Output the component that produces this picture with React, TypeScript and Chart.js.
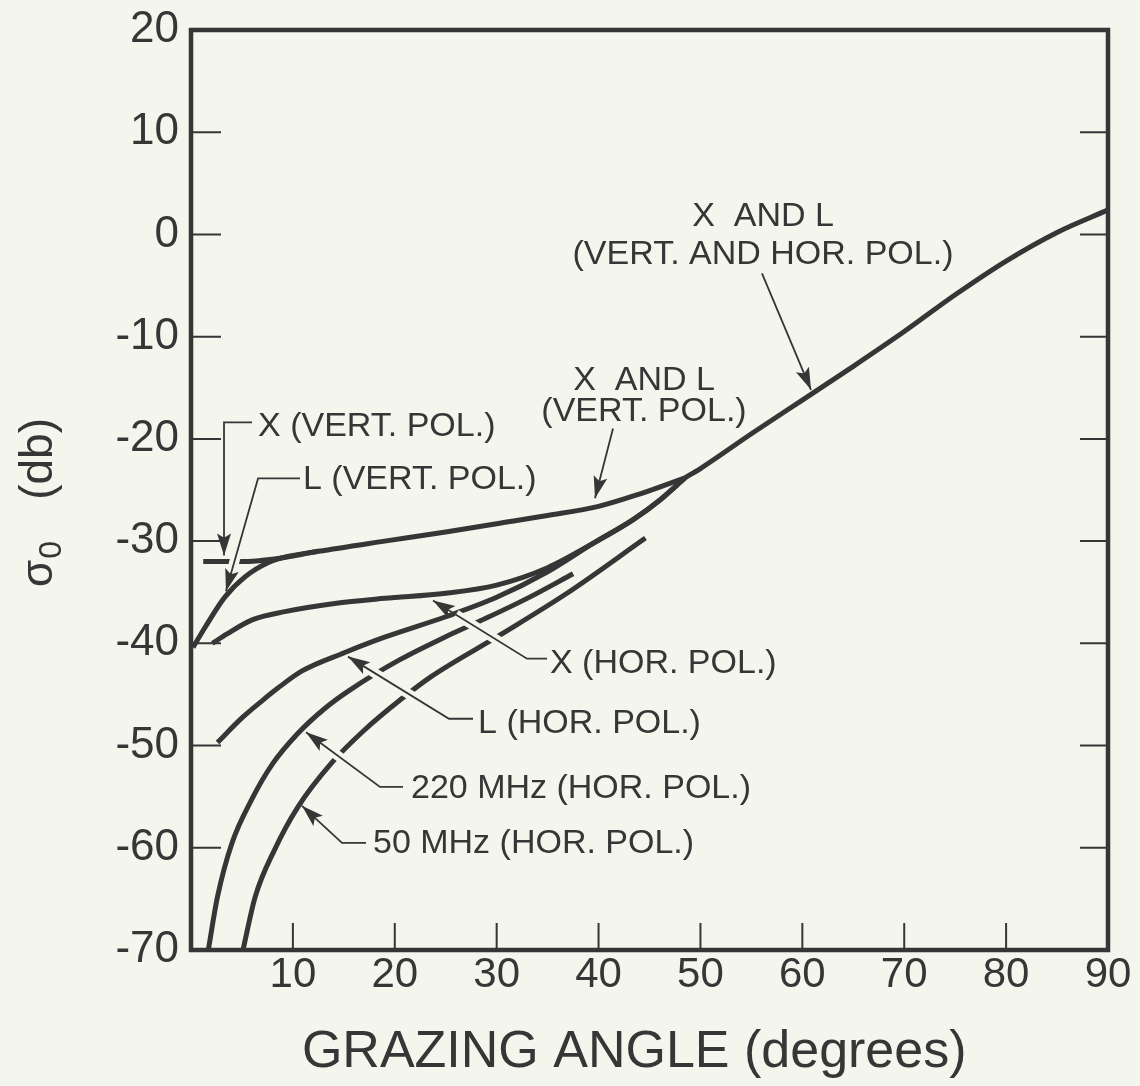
import React, { useEffect, useRef } from 'react';
import { Chart, registerables } from 'chart.js';

Chart.register(...registerables);

const FONT = '"Liberation Sans", Arial, Helvetica, sans-serif';
const INK = '#363636';
const PAPER = '#f4f5ec';

// Axis ticks
const xTickValues = [10, 20, 30, 40, 50, 60, 70, 80, 90];
const yTickValues = [20, 10, 0, -10, -20, -30, -40, -50, -60, -70];
const xTitle = 'GRAZING ANGLE (degrees)';

// X AND L (VERT. AND HOR. POL.) — common curve
const mainAngles = [48.5, 50, 55, 60, 65, 70, 75, 80, 85, 90];
const mainDb = [-23.8, -22.9, -19.5, -16.2, -12.9, -9.5, -5.9, -2.6, 0.2, 2.4];

// X (VERT. POL.)
const xVertAngles = [1.2, 5, 8.2, 12.5, 19, 25, 30, 35, 40, 44, 48.5];
const xVertDb = [-32.0, -32.0, -31.75, -31.0, -30.0, -29.1, -28.3, -27.5, -26.6, -25.4, -23.8];

// L (VERT. POL.)
const lVertAngles = [0.2, 1.4, 3.3, 5.3, 7.6, 9.5, 12.5];
const lVertDb = [-40.4, -38.4, -35.5, -33.5, -32.1, -31.5, -31.0];

// X (HOR. POL.)
const xHorAngles = [2.1, 3.5, 6, 9.2, 14.1, 19, 25, 30, 35, 39.5, 43.4, 46, 48.5];
const xHorDb = [-40.0, -39.1, -37.7, -36.9, -36.1, -35.6, -35.1, -34.3, -32.6, -30.2, -27.9, -26.0, -23.8];

// L (HOR. POL.)
const lHorAngles = [2.6, 5, 7, 8.5, 10.9, 15.1, 19, 25, 30, 35, 39.5, 43.4, 46, 48.5];
const lHorDb = [-49.7, -47.3, -45.6, -44.4, -42.7, -40.9, -39.4, -37.4, -35.5, -33.0, -30.2, -27.9, -26.0, -23.8];

// 220 MHz (HOR. POL.)
const mhz220Angles = [1.7, 2.6, 4, 6, 8, 10.5, 13.1, 15.4, 20.5, 24.9, 28.4, 33, 37.5];
const mhz220Db = [-70, -64.8, -59.6, -55.2, -51.8, -48.8, -46.4, -44.7, -41.6, -39.4, -37.8, -35.6, -33.2];

// 50 MHz (HOR. POL.)
const mhz50Angles = [5.1, 6.3, 8.2, 10.5, 13.8, 17, 20.7, 23.5, 30.3, 36.9, 44.6];
const mhz50Db = [-70, -64.8, -60.2, -56.0, -51.7, -48.5, -45.4, -43.3, -39.2, -35.1, -29.7];

// Annotation labels (data coordinates: degrees, dB); path ends at arrow tip
type Note = { lines: string[]; x: number; ys: number[]; align: 'left' | 'center'; path: [number, number][] };
const notes: Note[] = [
  { lines: ['X (VERT. POL.)'], x: 6.58, ys: [-19.76], align: 'left', path: [[5.99, -18.39], [3.24, -18.39], [3.24, -31.4]] },
  { lines: ['L (VERT. POL.)'], x: 10.99, ys: [-24.95], align: 'left', path: [[10.7, -23.87], [6.58, -23.87], [3.43, -34.9]] },
  { lines: ['X  AND L', '(VERT. POL.)'], x: 44.46, ys: [-15.26, -18.29], align: 'center', path: [[41.42, -18.98], [39.65, -25.8]] },
  { lines: ['X  AND L', '(VERT. AND HOR. POL.)'], x: 56.14, ys: [0.8, -2.92], align: 'center', path: [[56.04, -3.8], [60.85, -15.2]] },
  { lines: ['X (HOR. POL.)'], x: 35.23, ys: [-42.87], align: 'left', path: [[34.94, -41.5], [32.98, -41.5], [23.75, -35.8]] },
  { lines: ['L (HOR. POL.)'], x: 28.17, ys: [-48.75], align: 'left', path: [[27.68, -47.38], [25.32, -47.38], [15.41, -41.3]] },
  { lines: ['220 MHz (HOR. POL.)'], x: 21.59, ys: [-55.12], align: 'left', path: [[20.81, -54.04], [18.55, -54.04], [11.29, -48.7]] },
  { lines: ['50 MHz (HOR. POL.)'], x: 17.86, ys: [-60.5], align: 'left', path: [[17.18, -59.52], [14.82, -59.52], [10.89, -55.9]] },
];

const seriesList: [number[], number[]][] = [
  [mainAngles, mainDb],
  [xVertAngles, xVertDb],
  [lVertAngles, lVertDb],
  [xHorAngles, xHorDb],
  [lHorAngles, lHorDb],
  [mhz220Angles, mhz220Db],
  [mhz50Angles, mhz50Db],
];

const decor = {
  id: 'decor',
  beforeDraw(chart: any) {
    const { ctx, width, height } = chart;
    ctx.save();
    ctx.fillStyle = PAPER;
    ctx.fillRect(0, 0, width, height);
    ctx.restore();
  },
  afterDatasetsDraw(chart: any) {
    const { ctx, chartArea, scales } = chart;
    const { left, right, top, bottom } = chartArea;
    const xs = scales.x;
    const ys = scales.y;
    ctx.save();

    const paths = notes.map((n) => n.path.map(([a, b]) => [xs.getPixelForValue(a), ys.getPixelForValue(b)]));

    // paper-coloured halos where leader lines cross the curves
    ctx.strokeStyle = PAPER;
    ctx.lineWidth = 10;
    ctx.lineCap = 'butt';
    paths.forEach((pts) => {
      const [tx, ty] = pts[pts.length - 1];
      const [fx, fy] = pts[pts.length - 2];
      const len = Math.hypot(tx - fx, ty - fy);
      const cut = Math.min(27, len);
      const ex = tx - ((tx - fx) / len) * cut;
      const ey = ty - ((ty - fy) / len) * cut;
      ctx.beginPath();
      ctx.moveTo(pts[0][0], pts[0][1]);
      for (let i = 1; i < pts.length - 1; i++) ctx.lineTo(pts[i][0], pts[i][1]);
      ctx.lineTo(ex, ey);
      ctx.stroke();
    });

    ctx.strokeStyle = INK;
    ctx.fillStyle = INK;
    // inner ticks
    ctx.lineWidth = 2;
    ctx.beginPath();
    ys.ticks.forEach((t: any) => {
      if (t.value === 20 || t.value === -70) return;
      const py = ys.getPixelForValue(t.value);
      ctx.moveTo(left, py);
      ctx.lineTo(left + 30, py);
      ctx.moveTo(right, py);
      ctx.lineTo(right - 28, py);
    });
    xs.ticks.forEach((t: any) => {
      if (t.value === 90) return;
      const px = xs.getPixelForValue(t.value);
      ctx.moveTo(px, bottom);
      ctx.lineTo(px, bottom - 27);
    });
    ctx.stroke();
    // frame
    ctx.lineWidth = 4.5;
    ctx.strokeRect(left, top, right - left, bottom - top);

    // annotations
    ctx.font = `34px ${FONT}`;
    ctx.textBaseline = 'alphabetic';
    notes.forEach((n, k) => {
      ctx.textAlign = n.align;
      n.lines.forEach((line, i) => {
        ctx.fillText(line, xs.getPixelForValue(n.x), ys.getPixelForValue(n.ys[i]));
      });
      const pts = paths[k];
      ctx.lineWidth = 1.8;
      ctx.beginPath();
      ctx.moveTo(pts[0][0], pts[0][1]);
      for (let i = 1; i < pts.length; i++) ctx.lineTo(pts[i][0], pts[i][1]);
      ctx.stroke();
      const [tx, ty] = pts[pts.length - 1];
      const [fx, fy] = pts[pts.length - 2];
      const len = Math.hypot(tx - fx, ty - fy);
      const dx = (tx - fx) / len;
      const dy = (ty - fy) / len;
      const L = 22;
      const W = 7;
      ctx.beginPath();
      ctx.moveTo(tx, ty);
      ctx.lineTo(tx - dx * L - dy * W, ty - dy * L + dx * W);
      ctx.lineTo(tx - dx * L * 0.8, ty - dy * L * 0.8);
      ctx.lineTo(tx - dx * L + dy * W, ty - dy * L - dx * W);
      ctx.closePath();
      ctx.fill();
    });

    // x-axis title
    ctx.textAlign = 'center';
    ctx.font = `52px ${FONT}`;
    ctx.fillText(xTitle, xs.getPixelForValue(43.5), 1067);

    // y-axis title with subscript
    ctx.translate(52, 587);
    ctx.rotate(-Math.PI / 2);
    ctx.textAlign = 'left';
    ctx.font = `44px ${FONT}`;
    ctx.fillText('σ', 0, 0);
    const sw = ctx.measureText('σ').width;
    ctx.font = `32px ${FONT}`;
    ctx.fillText('0', sw + 1, 9);
    ctx.font = `46px ${FONT}`;
    ctx.textAlign = 'right';
    ctx.fillText('(db)', 169, 0);
    ctx.restore();
  },
};

export default function App() {
  const ref = useRef<HTMLCanvasElement | null>(null);
  useEffect(() => {
    document.body.style.margin = '0';
    const canvas = ref.current;
    if (!canvas) return;
    const chart = new Chart(canvas, {
      type: 'line',
      data: {
        datasets: seriesList.map(([a, d]) => ({
          data: a.map((v, i) => ({ x: v, y: d[i] })),
          borderColor: INK,
          borderWidth: 5,
          pointRadius: 0,
          fill: false,
          cubicInterpolationMode: 'monotone' as const,
          borderCapStyle: 'butt' as const,
        })),
      },
      options: {
        responsive: false,
        animation: false,
        devicePixelRatio: 1,
        layout: { padding: { top: 30, right: 32, left: 0, bottom: 0 } },
        plugins: { legend: { display: false }, tooltip: { enabled: false } },
        scales: {
          x: {
            type: 'linear',
            min: 0,
            max: 90,
            afterBuildTicks: (s: any) => {
              s.ticks = xTickValues.map((v) => ({ value: v }));
            },
            grid: { display: false, drawTicks: false },
            border: { display: false },
            ticks: { font: { family: FONT, size: 42 }, color: INK, padding: 0, maxRotation: 0, autoSkip: false },
            title: { display: false, text: xTitle },
            afterFit: (s: any) => {
              s.height = 136;
              s.paddingLeft = 0;
              s.paddingRight = 0;
            },
          },
          y: {
            type: 'linear',
            min: -70,
            max: 20,
            afterBuildTicks: (s: any) => {
              s.ticks = yTickValues.map((v) => ({ value: v }));
            },
            grid: { display: false, drawTicks: false },
            border: { display: false },
            ticks: { font: { family: FONT, size: 44 }, color: INK, padding: 12, autoSkip: false },
            afterFit: (s: any) => {
              s.width = 191;
              s.paddingTop = 0;
              s.paddingBottom = 0;
            },
          },
        },
      },
      plugins: [decor],
    });
    return () => chart.destroy();
  }, []);
  return (
    <div style={{ width: 1140, height: 1086 }}>
      <canvas ref={ref} width={1140} height={1086} style={{ display: 'block', width: 1140, height: 1086 }} />
    </div>
  );
}
